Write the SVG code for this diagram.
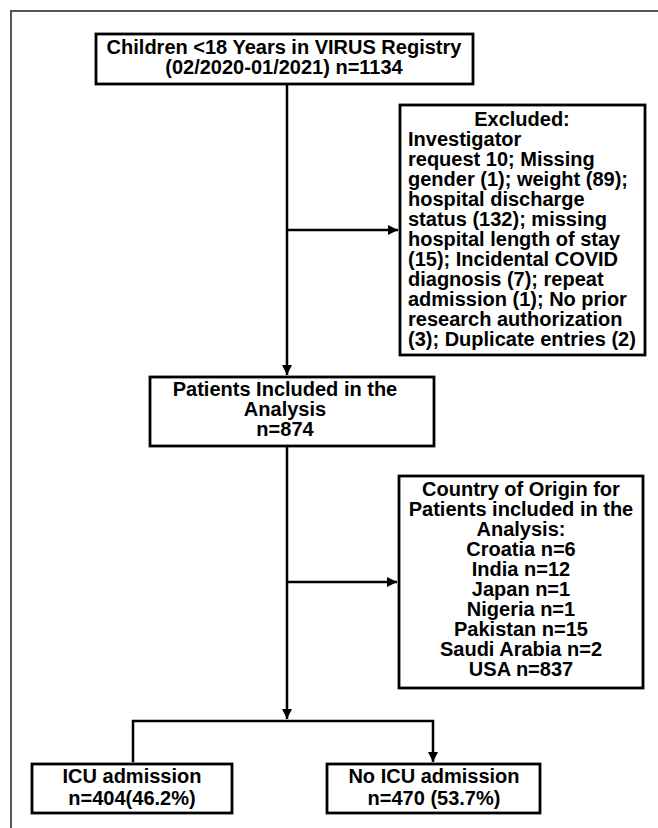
<svg xmlns="http://www.w3.org/2000/svg" width="658" height="828" viewBox="0 0 658 828">
<defs>
<style>
.box{fill:#fff;stroke:#000;stroke-width:2.8}
.t{font-family:"Liberation Sans",Arial,sans-serif;font-weight:bold;font-size:20px;fill:#000}
.c{text-anchor:middle}
.l{text-anchor:start}
.ln{fill:none;stroke:#000;stroke-width:2.5}
.frame{fill:none;stroke:#555;stroke-width:2}
</style>
<marker id="ah" viewBox="0 0 10 10" refX="10" refY="5" markerWidth="4" markerHeight="4" markerUnits="strokeWidth" orient="auto">
<path d="M0,0 L10,5 L0,10 Z" fill="#000"/>
</marker>
</defs>
<rect width="658" height="828" fill="#fff"/>
<path class="frame" d="M11,828 V11 H658"/>

<g id="connectors">
<line class="ln" x1="287" y1="84" x2="287" y2="375" marker-end="url(#ah)"/>
<line class="ln" x1="287" y1="230" x2="398" y2="230" marker-end="url(#ah)"/>
<line class="ln" x1="287" y1="446" x2="287" y2="719" marker-end="url(#ah)"/>
<line class="ln" x1="287" y1="582" x2="397" y2="582" marker-end="url(#ah)"/>
<path class="ln" d="M133,762 V721 H433 V762" marker-start="url(#ah)" marker-end="url(#ah)"/>
</g>

<g id="n_children">
<rect class="box" x="96" y="34" width="377" height="50"/>
<text class="t c" x="284" y="54">Children &lt;18 Years in VIRUS Registry</text>
<text class="t c" x="284" y="74">(02/2020-01/2021) n=1134</text>
</g>

<g id="n_excluded">
<rect class="box" x="400" y="105" width="245" height="250"/>
<text class="t c" x="522" y="126">Excluded:</text>
<text class="t l"><tspan x="408" y="146">Investigator</tspan><tspan x="408" y="166">request 10; Missing</tspan><tspan x="408" y="186">gender (1); weight (89);</tspan><tspan x="408" y="206">hospital discharge</tspan><tspan x="408" y="226">status (132); missing</tspan><tspan x="408" y="246">hospital length of stay</tspan><tspan x="408" y="266">(15); Incidental COVID</tspan><tspan x="408" y="286">diagnosis (7); repeat</tspan><tspan x="408" y="306">admission (1); No prior</tspan><tspan x="408" y="326">research authorization</tspan><tspan x="408" y="346">(3); Duplicate entries (2)</tspan></text>
</g>

<g id="n_included">
<rect class="box" x="150" y="377" width="284" height="69"/>
<text class="t c"><tspan x="285" y="396">Patients Included in the</tspan><tspan x="285" y="416">Analysis</tspan><tspan x="285" y="436">n=874</tspan></text>
</g>

<g id="n_country">
<rect class="box" x="399" y="476" width="244" height="212"/>
<text class="t c"><tspan x="521" y="495.5">Country of Origin for</tspan><tspan x="521" y="515.5">Patients included in the</tspan><tspan x="521" y="535.5">Analysis:</tspan><tspan x="521" y="555.5">Croatia n=6</tspan><tspan x="521" y="575.5">India n=12</tspan><tspan x="521" y="595.5">Japan n=1</tspan><tspan x="521" y="615.5">Nigeria n=1</tspan><tspan x="521" y="635.5">Pakistan n=15</tspan><tspan x="521" y="655.5">Saudi Arabia n=2</tspan><tspan x="521" y="675.5">USA n=837</tspan></text>
</g>

<g id="n_icu">
<rect class="box" x="32" y="764" width="200" height="49"/>
<text class="t c"><tspan x="132" y="783">ICU admission</tspan><tspan x="132" y="805">n=404(46.2%)</tspan></text>
</g>

<g id="n_noicu">
<rect class="box" x="327" y="764" width="213" height="49"/>
<text class="t c"><tspan x="434" y="783">No ICU admission</tspan><tspan x="434" y="805">n=470 (53.7%)</tspan></text>
</g>
</svg>
